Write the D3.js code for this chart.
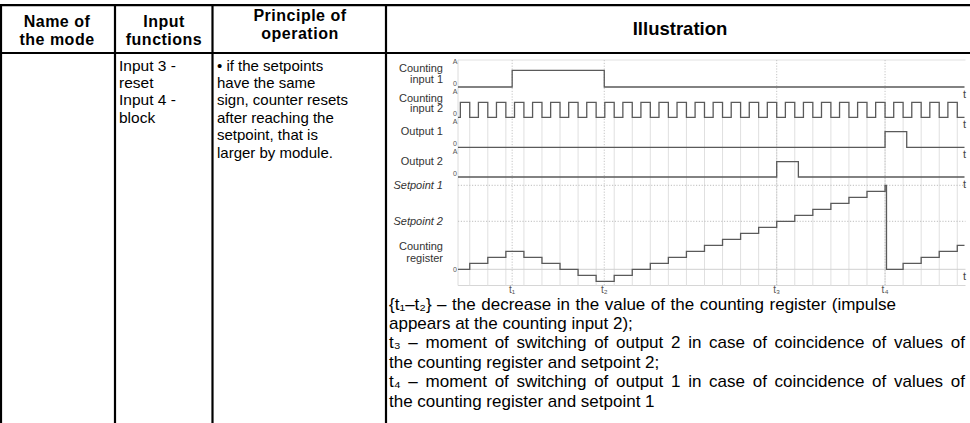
<!DOCTYPE html>
<html>
<head>
<meta charset="utf-8">
<script src="https://cdn.jsdelivr.net/npm/d3@7"></script>
<style>
  body { margin: 0; background: #fff; }
  svg { display: block; }
  text { font-family: "Liberation Sans", Arial, sans-serif; }
</style>
</head>
<body>
<svg id="chart"></svg>
<script>
// ---- Data ----
const headers = [["Name of", "the mode"], ["Input", "functions"], ["Principle of", "operation"], ["Illustration"]];
const inputFunctions = ["Input 3 -", "reset", "Input 4 -", "block"];
const principle = ["• if the setpoints", "have the same", "sign, counter resets", "after reaching the", "setpoint, that is", "larger by module."];

const signalNames = [["Counting", "input 1"], ["Counting", "input 2"], ["Output 1"], ["Output 2"]];
const setpointNames = ["Setpoint 1", "Setpoint 2"];
const setpointValues = [14, 8];
const registerName = ["Counting", "register"];

// time is counted in clock periods of counting input 2 (falling edges)
const clockFalls = [0, 1, 2, 3, 4, 5, 6, 7, 8, 9, 10, 11, 12, 13, 14, 15, 16, 17, 18, 19, 20, 21, 22, 23, 24, 25, 26, 27];
const clockHigh = 0.52;
const input1Pulses = [[2.35, 7.45]];
const output1Pulses = [[23, 24.2]];
const output2Pulses = [[17, 18.2]];

const registerTimes = [-0.65, 0, 1, 2, 3, 4, 5, 6, 7, 8, 9, 10, 11, 12, 13, 14, 15, 16, 17, 18, 19, 20, 21, 22, 23, 23.08, 24, 25, 26, 27, 27.4];
const registerValues = [0, 1, 2, 3, 2, 1, 0, -1, -2, -1, 0, 1, 2, 3, 4, 5, 6, 7, 8, 9, 10, 11, 12, 13, 14, 0, 1, 2, 3, 4, 4];

const markerNames = ["t₁", "t₂", "t₃", "t₄"];
const markerTimes = [2.35, 7.45, 17, 23];

const notes = [
  "{t₁–t₂} – the decrease in the value of the counting register (impulse",
  "appears at the counting input 2);",
  "t₃ – moment of switching of output 2 in case of coincidence of values of",
  "the counting register and setpoint 2;",
  "t₄ – moment of switching of output 1 in case of coincidence of values of",
  "the counting register and setpoint 1"
];
// justified widths of the wrapped lines (0 = left as is)
const noteWidths = [507, 0, 576, 0, 576, 0];

// ---- Layout ----
const width = 970;
const height = 423;
const tStart = -0.65, tEnd = 27.4;
const plot = { left: 458, right: 964.5, top: 60, bottom: 285.5 };

const svg = d3.select('#chart')
  .attr('width', width)
  .attr('height', height);

// Table frame
const colEdges = [1, 115, 212.5, 386];
const table = svg.append('g').attr('stroke', '#000').attr('stroke-width', 2.2);
table.append('line').attr('x1', 0).attr('x2', width).attr('y1', 5.2).attr('y2', 5.2);
table.append('line').attr('x1', 0).attr('x2', width).attr('y1', 53).attr('y2', 53);
colEdges.forEach(cx => {
  table.append('line').attr('x1', cx).attr('x2', cx).attr('y1', 5.2).attr('y2', height);
});

// Header text
const headerPos = [
  { x: 57, y: [26.5, 44.5] },
  { x: 164, y: [26.5, 44.5] },
  { x: 300, y: [21, 39] },
  { x: 680, y: [35] }
];
headers.forEach((lines, i) => {
  lines.forEach((s, j) => {
    svg.append('text')
      .attr('x', headerPos[i].x)
      .attr('y', headerPos[i].y[j])
      .attr('text-anchor', 'middle')
      .attr('font-weight', 'bold')
      .attr('font-size', i === 3 ? '18.5px' : '16px')
      .attr('letter-spacing', i === 3 ? 0 : 0.5)
      .text(s);
  });
});

// Body cells
inputFunctions.forEach((s, i) => {
  svg.append('text').attr('x', 119).attr('y', 70.5 + i * 17.4)
    .attr('font-size', '15.5px').text(s);
});
principle.forEach((s, i) => {
  svg.append('text').attr('x', 217).attr('y', 70.5 + i * 17.4)
    .attr('font-size', '15px').text(s);
});

// ---- Timing diagram ----
const x = d3.scaleLinear().domain([tStart, tEnd]).range([plot.left, plot.right]);
const yReg = d3.scaleLinear().domain([0, 14]).range([269.3, 185.3]);

const rows = [
  { base: 87, high: 70.3, label: [72, 82.5], pulses: input1Pulses },
  { base: 117.3, high: 102.3, label: [101.5, 112], pulses: clockFalls.map(f => [f - clockHigh, f]) },
  { base: 147.3, high: 131.7, label: [135], pulses: output1Pulses },
  { base: 177, high: 161.7, label: [165], pulses: output2Pulses }
];

const diagram = svg.append('g');

// frame lines
diagram.append('line').attr('x1', plot.left).attr('x2', plot.right + 1)
  .attr('y1', plot.top).attr('y2', plot.top).attr('stroke', '#e2e2e2');
diagram.append('line').attr('x1', plot.left).attr('x2', plot.right + 1)
  .attr('y1', plot.bottom).attr('y2', plot.bottom).attr('stroke', '#d6d6d6');
diagram.append('line').attr('x1', plot.left).attr('x2', plot.left)
  .attr('y1', plot.top).attr('y2', plot.bottom).attr('stroke', '#dcdcdc');

// vertical grid at clock edges
diagram.selectAll('.grid')
  .data(clockFalls)
  .enter()
  .append('line')
  .attr('x1', d => x(d)).attr('x2', d => x(d))
  .attr('y1', rows[1].base).attr('y2', plot.bottom)
  .attr('stroke', '#e0e0e0');

// register zero line and setpoint lines
diagram.append('line').attr('x1', plot.left).attr('x2', plot.right + 1)
  .attr('y1', yReg(0)).attr('y2', yReg(0)).attr('stroke', '#d0d0d0');
setpointValues.forEach(v => {
  diagram.append('line').attr('x1', plot.left).attr('x2', plot.right + 1)
    .attr('y1', yReg(v)).attr('y2', yReg(v))
    .attr('stroke', '#bdbdbd').attr('stroke-dasharray', '1.2,1.6');
});

// dotted marker lines
diagram.selectAll('.marker')
  .data(markerTimes)
  .enter()
  .append('line')
  .attr('x1', d => x(d)).attr('x2', d => x(d))
  .attr('y1', plot.top).attr('y2', plot.bottom)
  .attr('stroke', '#c4c4c4').attr('stroke-dasharray', '1.2,1.6');

// signal traces
rows.forEach(r => {
  const y = d3.scaleLinear().domain([0, 1]).range([r.base, r.high]);
  const pts = [[tStart, 0]];
  r.pulses.forEach(([a, b]) => pts.push([a, 0], [a, 1], [b, 1], [b, 0]));
  pts.push([tEnd, 0]);
  diagram.append('path')
    .attr('d', d3.line().x(d => x(d[0])).y(d => y(d[1]))(pts))
    .attr('fill', 'none').attr('stroke', '#5a5a5a').attr('stroke-width', 1.3);

  diagram.append('text').attr('x', 455).attr('y', r.base - 23.5)
    .attr('text-anchor', 'middle').attr('font-size', '7px').attr('fill', '#555').text('A');
  diagram.append('text').attr('x', 455).attr('y', r.base - 1)
    .attr('text-anchor', 'middle').attr('font-size', '7px').attr('fill', '#555').text('0');
  diagram.append('text').attr('x', 963).attr('y', r.base + 10.5)
    .attr('font-size', '11px').attr('fill', '#444').text('t');
});

// counting register
diagram.append('path')
  .datum(registerTimes.map((t, i) => [t, registerValues[i]]))
  .attr('d', d3.line().x(d => x(d[0])).y(d => yReg(d[1])).curve(d3.curveStepAfter))
  .attr('fill', 'none').attr('stroke', '#5a5a5a').attr('stroke-width', 1.3);
diagram.append('text').attr('x', 455).attr('y', yReg(0) + 2.5)
  .attr('text-anchor', 'middle').attr('font-size', '7px').attr('fill', '#555').text('0');
diagram.append('text').attr('x', 963).attr('y', yReg(0) + 10.5)
  .attr('font-size', '11px').attr('fill', '#444').text('t');

// row labels
const labelX = 443;
rows.forEach((r, i) => {
  signalNames[i].forEach((s, j) => {
    diagram.append('text').attr('x', labelX).attr('y', r.label[j])
      .attr('text-anchor', 'end').attr('font-size', '11px').attr('fill', '#333').text(s);
  });
});
setpointNames.forEach((s, i) => {
  diagram.append('text').attr('x', labelX).attr('y', yReg(setpointValues[i]) + 3.5)
    .attr('text-anchor', 'end').attr('font-size', '11px').attr('font-style', 'italic')
    .attr('fill', '#333').text(s);
});
registerName.forEach((s, j) => {
  diagram.append('text').attr('x', labelX).attr('y', 250 + j * 11.5)
    .attr('text-anchor', 'end').attr('font-size', '11px').attr('fill', '#333').text(s);
});

// marker labels t1..t4
markerTimes.forEach((t, i) => {
  diagram.append('text').attr('x', x(t)).attr('y', 293)
    .attr('text-anchor', 'middle').attr('font-size', '10px').attr('fill', '#555')
    .text(markerNames[i]);
});

// ---- Notes below the diagram ----
notes.forEach((s, i) => {
  const t = svg.append('text').attr('x', 389).attr('y', 309.5 + i * 19.4)
    .attr('font-size', '17px').attr('fill', '#000')
    .text(s);
  if (noteWidths[i]) {
    const len = t.node().getComputedTextLength();
    const gaps = s.split(' ').length - 1;
    t.attr('word-spacing', Math.max(0, (noteWidths[i] - len) / gaps));
  }
});
</script>
</body>
</html>
